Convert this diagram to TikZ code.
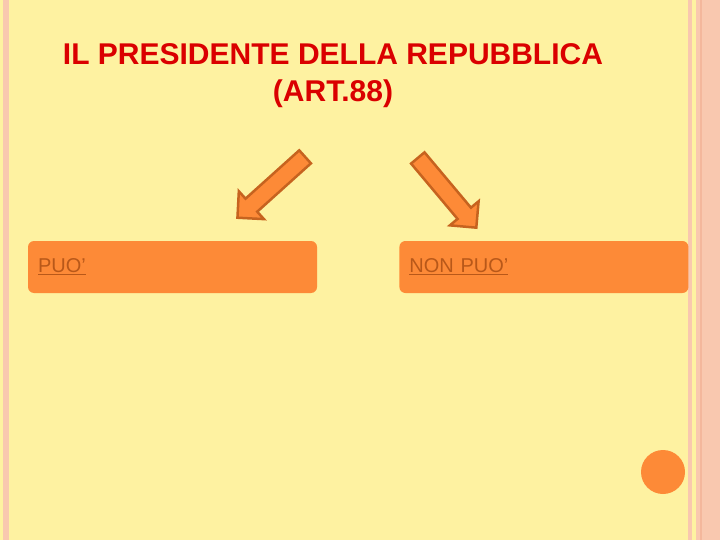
\documentclass[tikz,border=0pt]{standalone}
\usepackage{fontspec}
\setmainfont{Liberation Sans}
\usetikzlibrary{positioning,shapes.arrows}

\definecolor{slideyellow}{HTML}{FEF2A1}
\definecolor{stripepink}{HTML}{F9C8AF}
\definecolor{stripedark}{HTML}{F4B79C}
\definecolor{boxorange}{HTML}{FD8A37}
\definecolor{edgebrown}{HTML}{C6631F}
\definecolor{linkbrown}{HTML}{B85819}
\definecolor{titlered}{HTML}{DA0000}

\begin{document}
\begin{tikzpicture}[x=1pt,y=-1pt,
    box node/.style={rectangle,rounded corners=6pt,fill=boxorange,minimum width=289pt,minimum height=52pt,text width=269pt,inner xsep=10pt,align=left,font=\fontsize{20}{24}\selectfont,text=linkbrown},
    big arrow/.style={single arrow,draw=edgebrown,line width=2.5pt,fill=boxorange,minimum height=91pt,inner sep=0pt,inner ysep=7.5pt,single arrow head extend=10pt,anchor=tail}]
    % slide background and side stripes
    \fill[slideyellow] (0,0) rectangle (720,540);
    \fill[stripepink] (3,0) rectangle (9,540);
    \fill[stripepink] (688,0) rectangle (692,540);
    \fill[stripepink] (696,0) rectangle (720,540);
    \fill[stripedark] (700,0) rectangle (702,540);
    \useasboundingbox (0,0) rectangle (720,540);

    \node[font=\bfseries\fontsize{30}{37}\selectfont,text=titlered,align=center] (title) at (333,76) {IL PRESIDENTE DELLA REPUBBLICA\\(ART.88)};

    \node[big arrow,rotate=-138] (leftarrow) at (306,156) {};
    \node[big arrow,rotate=-50] (rightarrow) at (417,157) {};

    \node[box node] (can) at (172.5,267) {\underline{PUO’}};
    \node[box node,right=82pt of can] (cannot) {\underline{NON PUO’}};

    \node[circle,fill=boxorange,minimum size=44pt,inner sep=0pt] (dot) at (663,472) {};
\end{tikzpicture}
\end{document}
